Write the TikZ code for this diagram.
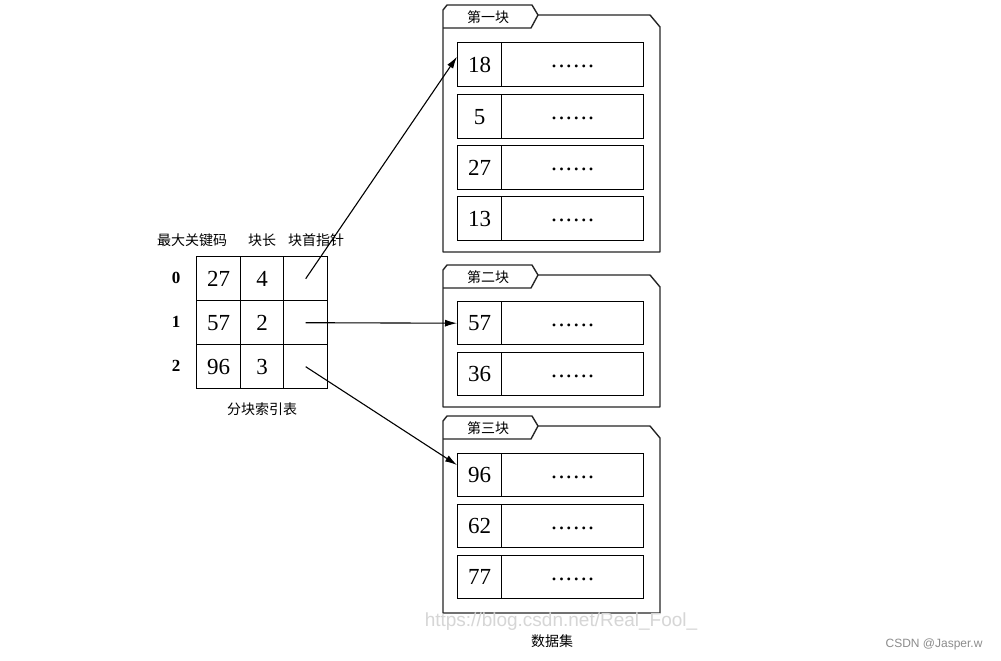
\documentclass[tikz,border=0pt]{standalone}
\usepackage{fontspec}
\setmainfont{Liberation Serif}
\setsansfont{Liberation Sans}
\newfontfamily\cjk{Noto Sans CJK SC}
\usetikzlibrary{arrows.meta}
\tikzset{
  keycell/.style={draw,line width=1.4pt,minimum width=44pt,minimum height=44pt,inner sep=0pt,anchor=north west,font=\fontsize{23}{23}\selectfont},
  dotcell/.style={draw,line width=1.4pt,minimum width=142pt,minimum height=44pt,inner sep=0pt,anchor=north west,font=\fontsize{24}{24}\selectfont},
  idxcell/.style={draw,line width=1.4pt,minimum width=44pt,minimum height=44pt,inner sep=0pt,anchor=north west,font=\fontsize{23}{23}\selectfont},
  folder/.style={draw=black!85,line width=1.4pt,line join=round},
  cjklabel/.style={font=\cjk\fontsize{14}{14}\selectfont},
  arr/.style={line width=1.1pt,-{Latex[length=12pt,width=7pt]}},
  rowidx/.style={font=\bfseries\fontsize{17}{17}\selectfont},
}
\newcommand\folderbox[3]{%
  \draw[folder] (443,#2) -- (443,#1+5) -- (447,#1) -- (532,#1) -- (538,#1+10) -- (650,#1+10) -- (660,#1+22) -- (660,#2) -- cycle;
  \draw[folder] (443,#1+23) -- (531,#1+23) -- (538,#1+10);
  \node[cjklabel] at (488,#1+12) {#3};
}
\newcommand\dotrow{\raisebox{-6pt}{.\hspace{1.4pt}.\hspace{1.4pt}.\hspace{1.4pt}.\hspace{1.4pt}.\hspace{1.4pt}.}}
\begin{document}
\begin{tikzpicture}[x=1pt,y=-1pt]
\useasboundingbox[fill=white] (0,0) rectangle (1001,661);

% index table
\node[cjklabel] (h1) at (192,240) {最大关键码};
\node[cjklabel] (h2) at (262,240) {块长};
\node[cjklabel] (h3) at (316,240) {块首指针};
\foreach \r/\k/\l [count=\i from 0] in {256/27/4,300/57/2,344/96/3}{
  \node[idxcell] (m\i) at (196,\r) {\k};
  \node[idxcell,minimum width=43pt] (l\i) at (240,\r) {\l};
  \node[idxcell] (p\i) at (283,\r) {};
  \node[rowidx] (n\i) at (176,\r+22) {\i};
}
\node[cjklabel] (cap1) at (262,409) {分块索引表};

% block 1
\folderbox{5}{252}{第一块}
\foreach \t/\k [count=\j] in {42/18,94/5,145/27,196/13}{
  \node[keycell] (k1\j) at (457,\t) {\k};
  \node[dotcell] (d1\j) at (501,\t) {\dotrow};
}
% block 2
\folderbox{265}{407}{第二块}
\foreach \t/\k [count=\j] in {301/57,352/36}{
  \node[keycell,minimum height=43pt] (k2\j) at (457,\t) {\k};
  \node[dotcell,minimum height=43pt] (d2\j) at (501,\t) {\dotrow};
}
% block 3
\folderbox{416}{613}{第三块}
\foreach \t/\k [count=\j] in {453/96,504/62,555/77}{
  \node[keycell,minimum height=43pt] (k3\j) at (457,\t) {\k};
  \node[dotcell,minimum height=43pt] (d3\j) at (501,\t) {\dotrow};
}
\node[cjklabel,inner sep=0pt] (cap2) at (552,641) {数据集};

% arrows
\draw[arr] (p0.center) -- ([yshift=8pt]k11.west);
\draw[arr] (p1.center) -- (k21.west);
\draw[arr] (p2.center) -- ([yshift=-12pt]k31.north west);

% watermarks
\node[text=black!16,inner sep=0pt,font=\sffamily\fontsize{19}{19}\selectfont] (wm) at (561,622) {https://blog.csdn.net/Real\_Fool\_};
\node[text=black!45,font=\sffamily\fontsize{12}{12}\selectfont,anchor=east] (wm2) at (986,644) {CSDN @Jasper.w};
\end{tikzpicture}
\end{document}
